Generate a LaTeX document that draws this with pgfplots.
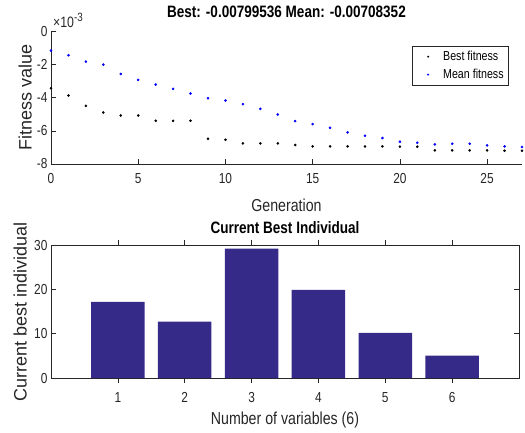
\documentclass[border=0pt]{standalone}
\usepackage{fontspec}
\setmainfont[FakeStretch=0.82]{Liberation Sans}
\newfontfamily\widefont{Liberation Sans}
\usepackage{pgfplots}
\pgfplotsset{compat=1.18}
\definecolor{meanblue}{RGB}{0,0,255}
\definecolor{parula}{RGB}{53,42,135}
\definecolor{axgray}{RGB}{38,38,38}

\pgfplotsset{
  every axis/.append style={
    scale only axis,
    tick align=inside,
    axis line style={axgray, -},
    every tick/.style={axgray, line width=0.5pt},
    major tick length=5pt,
    tick label style={font=\fontsize{14.5}{15}\selectfont, text=axgray},
    xticklabel style={yshift=-6pt},
    /pgf/number format/assume math mode=true,
    title style={font=\fontsize{16.5}{17}\selectfont\bfseries, anchor=center},
    xlabel style={font=\fontsize{17.3}{18}\selectfont, text=axgray, anchor=center},
    ylabel style={font=\widefont\fontsize{18}{18}\selectfont, text=axgray, anchor=center},
  },
  dotlegend/.style={legend image code/.code={%
    \path[draw=none] (0pt,-2pt) rectangle (26pt,2pt);
    \fill[#1, draw=none] (13pt,0pt) circle (1.1pt);}},
}

\begin{document}
\begin{tikzpicture}
\path[use as bounding box] (0pt,0pt) rectangle (525pt,-432pt);

% fitness history (values in units of 1e-3)
\begin{axis}[
    at={(51pt,-164pt)}, anchor=south west,
    width=471pt, height=133pt,
    xmin=0, xmax=27, ymin=-8, ymax=0,
    clip mode=individual,
    axis x line*=bottom, axis y line*=left,
    xtick={0,5,...,25}, ytick={-8,-6,-4,-2,0},
    title={Best: -0.00799536 Mean: -0.00708352},
    title style={at={(axis description cs:0.5,1)}, yshift=13pt},
    xlabel={Generation},
    xlabel style={at={(axis description cs:0.5,0)}, yshift=-41pt},
    ylabel={Fitness value},
    ylabel style={at={(axis description cs:-0.055,0.5)}},
    legend style={at={(axis description cs:0.972,0.887)}, anchor=north east, draw=axgray,
        font=\fontsize{13}{13}\selectfont, text=black,
        row sep=3pt, inner xsep=3pt, inner ysep=3pt},
    legend cell align=left,
]
\addplot[only marks, mark=*, mark size=1.1pt, black, dotlegend=black] coordinates {
 (0,-3.44)(1,-3.88)(2,-4.50)(3,-4.90)(4,-5.08)(5,-5.08)(6,-5.40)
 (7,-5.40)(8,-5.40)(9,-6.48)(10,-6.54)(11,-6.76)(12,-6.76)(13,-6.76)
 (14,-6.86)(15,-6.94)(16,-6.94)(17,-6.94)(18,-6.94)(19,-6.94)(20,-6.96)
 (21,-6.96)(22,-7.18)(23,-7.18)(24,-7.18)(25,-7.18)(26,-7.20)(27,-7.20)
};
\addplot[only marks, mark=*, mark size=1.1pt, meanblue, dotlegend=meanblue] coordinates {
 (0,-1.18)(1,-1.46)(2,-1.84)(3,-2.02)(4,-2.58)(5,-2.94)(6,-3.22)
 (7,-3.48)(8,-3.76)(9,-4.04)(10,-4.18)(11,-4.40)(12,-4.68)(13,-5.02)
 (14,-5.42)(15,-5.60)(16,-5.82)(17,-6.10)(18,-6.30)(19,-6.44)(20,-6.66)
 (21,-6.72)(22,-6.82)(23,-6.78)(24,-6.78)(25,-6.88)(26,-6.94)(27,-6.98)
};
\legend{Best fitness, Mean fitness}
\end{axis}
\node[anchor=base west, inner sep=0pt, text=axgray]
  at (53pt,-27pt) {\fontsize{15}{15}\selectfont ×10\raisebox{6pt}{\fontsize{12}{12}\selectfont -3}};

% current best individual
\begin{axis}[
    at={(51pt,-378pt)}, anchor=south west,
    width=468pt, height=133pt,
    xmin=0, xmax=7, ymin=0, ymax=30,
    ybar, bar width=53.5pt,
    xtick={1,...,6}, ytick={0,10,20,30},
    xtick pos=both, ytick pos=both,
    title={Current Best Individual},
    title style={at={(axis description cs:0.5,1)}, yshift=11pt},
    xlabel={Number of variables (6)},
    xlabel style={at={(axis description cs:0.5,0)}, yshift=-42pt},
    ylabel={Current best individual},
    ylabel style={at={(axis description cs:-0.066,0.5)}},
]
\addplot[fill=parula, draw=none] coordinates {
 (1,17.2)(2,12.7)(3,29.2)(4,19.9)(5,10.2)(6,5.05)
};
\end{axis}
\end{tikzpicture}
\end{document}
